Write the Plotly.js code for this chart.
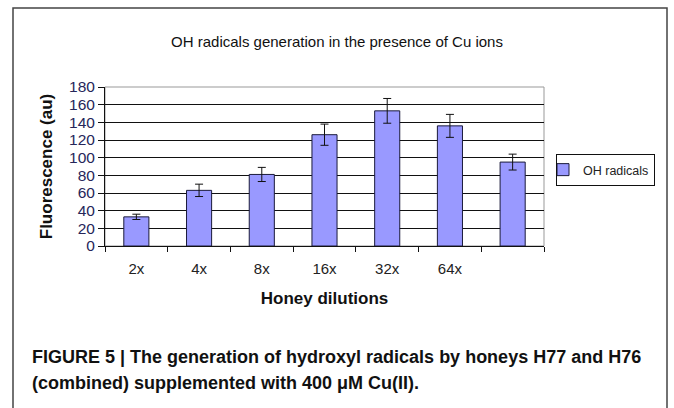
<!DOCTYPE html>
<html><head><meta charset="utf-8">
<script src="https://cdn.plot.ly/plotly-3.0.1.min.js"></script>
<style>html,body{margin:0;padding:0;background:#fff;}#chart{width:674px;height:408px;}</style>
</head><body><div id="chart"></div>
<script>
const dilutions = ["2x", "4x", "8x", "16x", "32x", "64x", " "];
const fluorescence = [33, 63, 81, 126, 153, 136, 95];
const errors = [3, 7, 8, 12, 14, 13, 9];
const seriesName = "OH radicals";
const chartTitle = "OH radicals generation in the presence of Cu ions";
const yTitle = "Fluorescence (au)";
const xTitle = "Honey dilutions";
const caption1 = "FIGURE 5 | The generation of hydroxyl radicals by honeys H77 and H76";
const caption2 = "(combined) supplemented with 400 \u03bcM Cu(II).";

const W = 674, H = 408;
const L = 105, R = 544, T = 87, B = 246;
const px = x => (x - L) / (R - L);
const py = y => (B - y) / (B - T);

const trace = {
  type: "bar", x: dilutions, y: fluorescence, name: seriesName,
  width: 0.4,
  marker: {color: "#9999ff", line: {color: "#1a1a3a", width: 1}},
  error_y: {type: "data", array: errors, visible: true, color: "#111", thickness: 1, width: 4},
  showlegend: true
};

const layout = {
  width: W, height: H,
  margin: {l: L, r: W - R, t: T, b: H - B, pad: 0},
  paper_bgcolor: "#fff", plot_bgcolor: "#fff",
  font: {family: "Liberation Sans, Arial, sans-serif", color: "#111"},
  title: {text: chartTitle, font: {size: 15, color: "#111"}, x: 337 / W, xanchor: "center", y: 1 - 42 / H, yanchor: "middle"},
  bargap: 0.6,
  xaxis: {
    type: "category", categoryorder: "array", categoryarray: dilutions,
    tickson: "boundaries", ticks: "outside", ticklen: 5, tickcolor: "#111",
    ticklabelstandoff: 9,
    showline: true, linecolor: "#111", linewidth: 1,
    showgrid: false, zeroline: false,
    tickfont: {size: 15, color: "#222"},
    title: {text: xTitle, font: {size: 17, color: "#111", weight: "bold"}, standoff: 16}
  },
  yaxis: {
    range: [0, 180], dtick: 20, tick0: 0,
    ticks: "outside", ticklen: 6, tickcolor: "#111",
    showline: true, linecolor: "#111", linewidth: 1,
    showgrid: true, gridcolor: "#111", gridwidth: 1, zeroline: false,
    tickfont: {size: 15.5, color: "#26265a"},
    title: {text: yTitle, font: {size: 17, color: "#111", weight: "bold"}, standoff: 12}
  },
  legend: {
    x: px(556), y: py(154), xanchor: "left", yanchor: "top",
    bordercolor: "#111", borderwidth: 1, bgcolor: "#fff",
    font: {size: 12.5, color: "#222"}, itemwidth: 30, indentation: -14
  },
  shapes: [
    {type: "rect", xref: "paper", yref: "paper", x0: 0, x1: 1, y0: 0, y1: 1,
     line: {color: "#999", width: 1}, layer: "between"},
    {type: "rect", xref: "paper", yref: "paper", x0: px(13), x1: px(667), y0: py(8), y1: py(430),
     line: {color: "#444", width: 1.5}, fillcolor: "rgba(0,0,0,0)", layer: "below"}
  ],
  annotations: [
    {xref: "paper", yref: "paper", x: px(30), y: py(357), xanchor: "left", yanchor: "middle", showarrow: false,
     text: caption1, font: {size: 18, weight: "bold", color: "#111"}},
    {xref: "paper", yref: "paper", x: px(30), y: py(383), xanchor: "left", yanchor: "middle", showarrow: false,
     text: caption2, font: {size: 18, weight: "bold", color: "#111"}}
  ]
};

Plotly.newPlot("chart", [trace], layout, {displayModeBar: false, staticPlot: true});
</script></body></html>
